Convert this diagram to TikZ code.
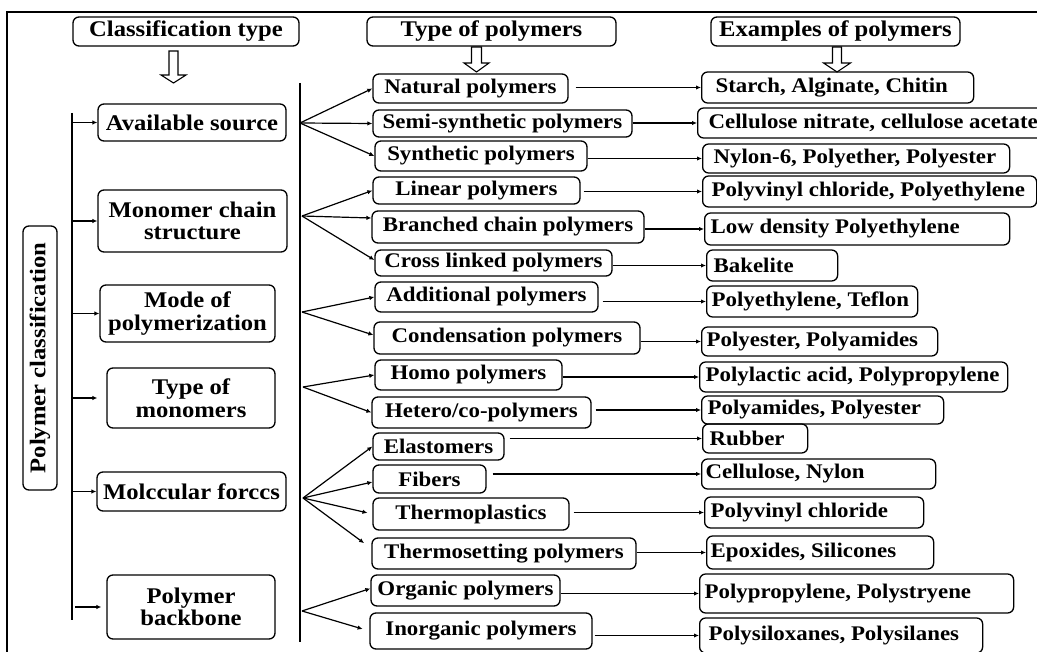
\documentclass[tikz,border=0pt]{standalone}
\usepackage{fontspec}
\setmainfont{Liberation Serif}[FakeStretch=1.1]
\usetikzlibrary{arrows.meta}

% left-padded text in a box of fixed overall width: pad, width, text
\newcommand\padl[3]{\hspace*{#1pt}\makebox[\dimexpr#2pt-#1pt\relax][l]{#3}}

\tikzset{
  box/.style={draw, line width=1.3pt, rounded corners=6pt, inner sep=0pt},
  headbox/.style={box, font=\bfseries\fontsize{22.4}{23}\selectfont},
  classbox/.style={box, align=center, font=\bfseries\fontsize{22.4}{22.5}\selectfont},
  typebox/.style={box, font=\bfseries\fontsize{20.8}{22}\selectfont},
  exbox/.style={box, anchor=west, font=\bfseries\fontsize{20.8}{22}\selectfont},
  arr/.style={line width=1.2pt, -{Latex[length=5pt,width=4.5pt]}},
  bus/.style={line width=2.4pt},
  frameline/.style={line width=1.8pt},
  hollow/.style={line width=1.1pt, line join=miter},
}

\begin{document}
\begin{tikzpicture}[x=1pt, y=-1pt]
\useasboundingbox (0,0) rectangle (1037,652);
\clip (0,0) rectangle (1037,652);

% outer frame
\draw[frameline] (1045,12) -- (7,12) -- (7,660);

% column headers
\node[headbox, minimum width=226, minimum height=29] (h1) at (186,31.5) {Classification type};
\node[headbox, minimum width=249, minimum height=29] (h2) at (491.5,31.5) {Type of polymers};
\node[headbox, minimum width=249, minimum height=29] (h3) at (835.5,31.5) {Examples of polymers};

% hollow down arrows under the headers
\draw[hollow] (169,51) -- (178,51) -- (178,75) -- (186,75) -- (173.5,83) -- (161,75) -- (169,75) -- cycle;
\draw[hollow] (471.5,47) -- (481.5,47) -- (481.5,63) -- (489,63) -- (476.5,72) -- (464,63) -- (471.5,63) -- cycle;
\draw[hollow] (832.5,47) -- (841.5,47) -- (841.5,63) -- (850.5,63) -- (837,72) -- (823.5,63) -- (832.5,63) -- cycle;

% root
\node[classbox, rotate=90, minimum width=264, minimum height=34] (root) at (40,358) {Polymer classification};

% classification criteria
\node[classbox, minimum width=188, minimum height=37] (c1) at (192,122.5) {Available source};
\node[classbox, minimum width=189, minimum height=62] (c2) at (192.5,221) {Monomer chain\\structure};
\node[classbox, minimum width=175, minimum height=57] (c3) at (187.5,313.5) {Mode of\\polymerization};
\node[classbox, minimum width=168, minimum height=60] (c4) at (191,398) {Type of\\monomers};
\node[classbox, minimum width=189, minimum height=39] (c5) at (191.5,491.5) {Molccular forccs};
\node[classbox, minimum width=168, minimum height=64] (c6) at (191,607) {Polymer\\backbone};

% types of polymers
\node[typebox, minimum width=195, minimum height=29] (t1) at (470.5,88.5) {Natural polymers};
\node[typebox, minimum width=259, minimum height=27] (t2) at (502.5,123.5) {Semi-synthetic polymers};
\node[typebox, minimum width=212, minimum height=30] (t3) at (481,156) {Synthetic polymers};
\node[typebox, minimum width=207, minimum height=27] (t4) at (476.5,190.5) {Linear polymers};
\node[typebox, minimum width=272, minimum height=32] (t5) at (508,227) {Branched chain polymers};
\node[typebox, minimum width=237, minimum height=26] (t6) at (493.5,263) {Cross linked polymers};
\node[typebox, minimum width=223, minimum height=30] (t7) at (486.5,297) {Additional polymers};
\node[typebox, minimum width=266, minimum height=32] (t8) at (507,338) {Condensation polymers};
\node[typebox, minimum width=187, minimum height=30] (t9) at (468.5,375) {Homo polymers};
\node[typebox, minimum width=219, minimum height=31] (t10) at (481.5,412.5) {Hetero/co-polymers};
\node[typebox, minimum width=131, minimum height=27] (t11) at (438.5,446.5) {Elastomers};
\node[typebox, minimum width=113, minimum height=28] (t12) at (429.5,479) {Fibers};
\node[typebox, minimum width=196, minimum height=32] (t13) at (471,514) {Thermoplastics};
\node[typebox, minimum width=264, minimum height=31] (t14) at (504,553.5) {Thermosetting polymers};
\node[typebox, minimum width=189, minimum height=31] (t15) at (465.5,590.5) {Organic polymers};
\node[typebox, minimum width=222, minimum height=36] (t16) at (481,631) {Inorganic polymers};

% examples
\node[exbox, minimum height=31] (e1) at (701,87.5) {\padl{14}{272}{Starch, Alginate, Chitin}};
\node[exbox, minimum height=30] (e2) at (697,123) {\padl{11}{380}{Cellulose nitrate, cellulose acetate}};
\node[exbox, minimum height=29] (e3) at (702,158.5) {\padl{11}{307}{Nylon-6, Polyether, Polyester}};
\node[exbox, minimum height=31] (e4) at (702,191.5) {\padl{9}{334}{Polyvinyl chloride, Polyethylene}};
\node[exbox, minimum height=32] (e5) at (704,229) {\padl{6}{305}{Low density Polyethylene}};
\node[exbox, minimum height=31] (e6) at (706,265.5) {\padl{7}{131}{Bakelite}};
\node[exbox, minimum height=31] (e7) at (706,301.5) {\padl{5}{211}{Polyethylene, Teflon}};
\node[exbox, minimum height=29] (e8) at (701,341.5) {\padl{5}{236}{Polyester, Polyamides}};
\node[exbox, minimum height=30] (e9) at (699,377) {\padl{6}{308}{Polylactic acid, Polypropylene}};
\node[exbox, minimum height=28] (e10) at (701,410) {\padl{6}{242}{Polyamides, Polyester}};
\node[exbox, minimum height=29] (e11) at (702,438.5) {\padl{7}{105}{Rubber}};
\node[exbox, minimum height=30] (e12) at (701,474) {\padl{4}{234}{Cellulose, Nylon}};
\node[exbox, minimum height=31] (e13) at (704,512.5) {\padl{6}{219}{Polyvinyl chloride}};
\node[exbox, minimum height=33] (e14) at (706,552.5) {\padl{4}{227}{Epoxides, Silicones}};
\node[exbox, minimum height=39] (e15) at (699,593.5) {\padl{5}{314}{Polypropylene, Polystryene}};
\node[exbox, minimum height=35] (e16) at (699,635.5) {\padl{9}{283}{Polysiloxanes, Polysilanes}};

% left bus with arrows to the criteria
\coordinate (lbT) at (72,113);
\coordinate (lbB) at (72,620);
\draw[bus] (lbT) -- (lbB);
\draw[arr] (lbT |- c1.west) -- (c1.west);
\draw[arr] (lbT |- c2.west) -- (c2.west);
\draw[arr] (lbT |- c3.west) -- (c3.west);
\draw[arr, shorten >=9pt] (lbT |- c4.west) -- (c4.west);
\draw[arr] (lbT |- c5.west) -- (c5.west);
\draw[arr, shorten >=5pt, shorten <=3pt] (lbT |- c6.west) -- (c6.west);

% right bus and fans to the polymer types
\coordinate (rbT) at (300,83);
\coordinate (rbB) at (300,642);
\draw[bus] (rbT) -- (rbB);
\coordinate (f1) at (300,123);
\coordinate (f2) at (302,216);
\coordinate (f3) at (302,312);
\coordinate (f4) at (303,387);
\coordinate (f5) at (303,498);
\coordinate (f6) at (302,611);
\draw[arr] (f1) -- (t1.west);
\draw[arr] (f1) -- (t2.west);
\draw[arr] (f1) -- (t3.west);
\draw[arr] (f2) -- (t4.west);
\draw[arr] (f2) -- ([yshift=9pt]t5.west);
\draw[arr] (f2) -- ([yshift=3pt]t6.west);
\draw[arr] (f3) -- (t7.west);
\draw[arr] (f3) -- ([yshift=3pt]t8.west);
\draw[arr] (f4) -- (t9.west);
\draw[arr] (f4) -- (t10.west);
\draw[arr] (f5) -- (t11.west);
\draw[arr] (f5) -- ([yshift=-3pt]t12.west);
\draw[arr, shorten >=5pt] (f5) -- (t13.west);
\draw[arr, shorten >=9pt] (f5) -- ([yshift=5pt]t14.west);
\draw[arr] (f6) -- ([yshift=2pt]t15.west);
\draw[arr, shorten >=7pt] (f6) -- (t16.west);

% types to examples
\draw[arr, shorten <=7pt] (t1.east |- e1.west) -- (e1.west);
\draw[arr] (t2.east |- e2.west) -- (e2.west);
\draw[arr] (t3.east |- e3.west) -- (e3.west);
\draw[arr, shorten <=3pt] (t4.east |- e4.west) -- (e4.west);
\draw[arr] (t5.east |- e5.west) -- (e5.west);
\draw[arr] (t6.east |- e6.west) -- (e6.west);
\draw[arr, shorten <=4pt] (t7.east |- e7.west) -- (e7.west);
\draw[arr] (t8.east |- e8.west) -- (e8.west);
\draw[arr] (t9.east |- e9.west) -- (e9.west);
\draw[arr, shorten <=4pt] (t10.east |- e10.west) -- (e10.west);
\draw[arr, shorten <=5pt] (t11.east |- e11.west) -- (e11.west);
\draw[arr, shorten <=6pt] (t12.east |- e12.west) -- (e12.west);
\draw[arr, shorten <=4pt] (t13.east |- e13.west) -- (e13.west);
\draw[arr] (t14.east |- e14.west) -- (e14.west);
\draw[arr] (t15.east |- e15.west) -- (e15.west);
\draw[arr, shorten <=2pt] (t16.east |- e16.west) -- (e16.west);
\end{tikzpicture}
\end{document}
